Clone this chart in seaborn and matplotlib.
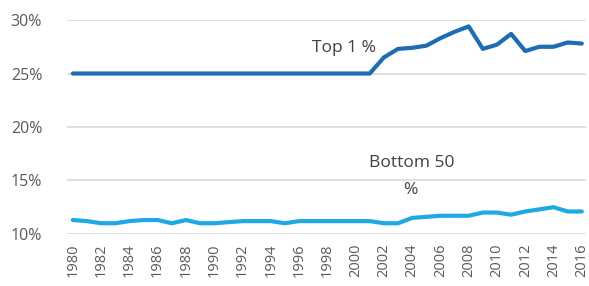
import matplotlib
matplotlib.use("Agg")
import matplotlib.pyplot as plt
import seaborn as sns
import pandas as pd
import numpy as np

years = list(range(1980, 2017))
top1 = [25.0]*22 + [26.5, 27.3, 27.4, 27.6, 28.3, 28.9, 29.4, 27.3, 27.7, 28.7,
                    27.1, 27.5, 27.5, 27.9, 27.8]
bottom50 = [11.3, 11.2, 11.0, 11.0, 11.2, 11.3, 11.3, 11.0, 11.3, 11.0,
            11.0, 11.1, 11.2, 11.2, 11.2, 11.0, 11.2, 11.2, 11.2, 11.2,
            11.2, 11.2, 11.0, 11.0, 11.5, 11.6, 11.7, 11.7, 11.7, 12.0,
            12.0, 11.8, 12.1, 12.3, 12.5, 12.1, 12.1]
series_names = ["Top 1 %", "Bottom 50 %"]
colors = ["#1f6cb3", "#1ea8e4"]
yticks = [10, 15, 20, 25, 30]
xticks = list(range(1980, 2017, 2))

df = pd.DataFrame({
    "year": years * 2,
    "share": top1 + bottom50,
    "series": [series_names[0]] * len(years) + [series_names[1]] * len(years),
})

sns.set_theme(style="white")
plt.rcParams["font.family"] = ["Open Sans", "DejaVu Sans"]

fig = plt.figure(figsize=(5.89, 2.86), dpi=100)
ax = fig.add_axes([0.114, 0.182, 0.881, 0.748])

sns.lineplot(data=df, x="year", y="share", hue="series",
             palette=dict(zip(series_names, colors)), linewidth=3.0,
             legend=False, ax=ax)

ax.set_xlim(1979.6, 2016.3)
ax.set_ylim(10, 30)
ax.set_yticks(yticks)
ax.set_yticklabels([f"{v}%" for v in yticks])
ax.set_xticks(xticks)
ax.set_xticklabels([str(v) for v in xticks], rotation=90)
ax.set_xlabel("")
ax.set_ylabel("")
for s in ax.spines.values():
    s.set_visible(False)
ax.grid(axis="y", color="#d9d9d9", linewidth=1.2)
ax.set_axisbelow(True)
ax.tick_params(axis="y", colors="#595959", labelsize=11.5, length=0, pad=18)
ax.tick_params(axis="x", colors="#595959", labelsize=10.5, length=0, pad=7)

ax.text(1999.2, 27.4, "Top 1 %", ha="center", va="center", fontsize=12.5, color="#404040")
ax.text(2004.0, 16.6, "Bottom 50", ha="center", va="center", fontsize=12.5, color="#404040")
ax.text(2003.9, 14.1, "%", ha="center", va="center", fontsize=12.5, color="#404040")

fig.savefig("out.png", dpi=100)
